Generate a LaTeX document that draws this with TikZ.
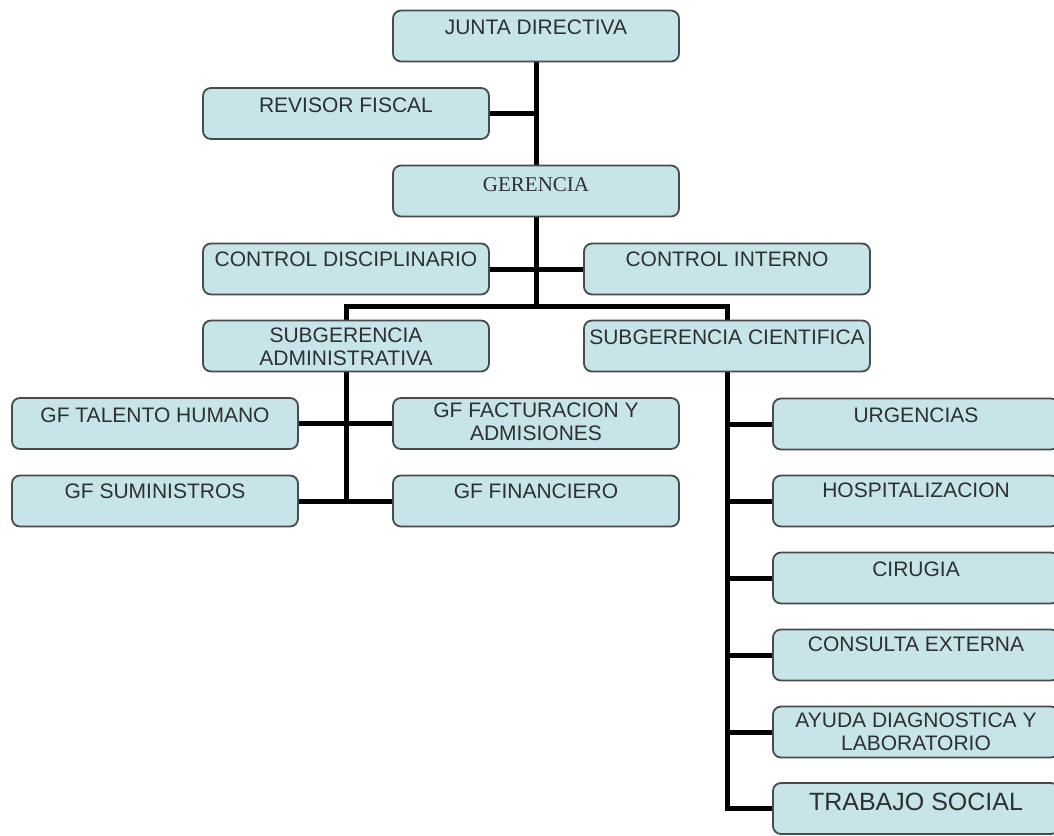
\documentclass[tikz,border=0pt]{standalone}
\usepackage{fontspec}
\setmainfont{Liberation Sans}
\newfontfamily\gerserif{Liberation Serif}
\pgfdeclarelayer{background}
\pgfsetlayers{background,main}
\definecolor{boxfill}{RGB}{199,228,232}
\definecolor{boxline}{RGB}{70,75,75}
\definecolor{txt}{RGB}{45,48,50}
\newcommand\boxfont{\fontsize{21}{23}\selectfont}
\newcommand\bigboxfont{\fontsize{25}{28}\selectfont}
\tikzset{
  orgbox/.style={draw=boxline, line width=1.8pt, fill=boxfill, rounded corners=8pt,
    minimum width=286pt, minimum height=51pt, inner sep=0pt},
  lbl/.style={font=\boxfont, text=txt, inner sep=0pt, align=center},
  conn/.style={line width=5pt, black, line cap=rect, line join=miter},
}
\begin{document}
\begin{tikzpicture}[x=1pt,y=-1pt]
\useasboundingbox (0,0) rectangle (1054,835);
\clip (0,0) rectangle (1054,835);
% boxes
\node[orgbox] (jd) at (536,36) {};
\node[orgbox] (rf) at (346,113.5) {};
\node[orgbox] (ge) at (536,191) {};
\node[orgbox] (cd) at (346,269) {};
\node[orgbox] (ci) at (727,269) {};
\node[orgbox] (sa) at (346,346) {};
\node[orgbox] (sc) at (727,346) {};
\node[orgbox] (th) at (155,423.5) {};
\node[orgbox] (fa) at (536,423.5) {};
\node[orgbox] (su) at (155,501) {};
\node[orgbox] (fi) at (536,501) {};
\node[orgbox] (ur) at (916,424) {};
\node[orgbox] (ho) at (916,501) {};
\node[orgbox] (cx) at (916,578) {};
\node[orgbox] (ce) at (916,655) {};
\node[orgbox] (ay) at (916,732) {};
\node[orgbox] (ts) at (916,808.5) {};
% labels
\node[lbl, anchor=base] at ([yshift=-25pt]jd.north) {JUNTA DIRECTIVA};
\node[lbl, anchor=base] at ([yshift=-25pt]rf.north) {REVISOR FISCAL};
\node[lbl, anchor=base, font=\gerserif\boxfont] at ([yshift=-27pt]ge.north) {GERENCIA};
\node[lbl, anchor=base] at ([yshift=-24pt]cd.north) {CONTROL DISCIPLINARIO};
\node[lbl, anchor=base] at ([yshift=-24pt]ci.north) {CONTROL INTERNO};
\node[lbl, anchor=north] at ([yshift=-8pt]sa.north) {SUBGERENCIA\\ADMINISTRATIVA};
\node[lbl, anchor=base] at ([yshift=-25pt]sc.north) {SUBGERENCIA CIENTIFICA};
\node[lbl, anchor=base] at ([yshift=-25pt]th.north) {GF TALENTO HUMANO};
\node[lbl, anchor=north] at ([yshift=-6pt]fa.north) {GF FACTURACION Y\\ADMISIONES};
\node[lbl, anchor=base] at ([yshift=-24pt]su.north) {GF SUMINISTROS};
\node[lbl, anchor=base] at ([yshift=-24pt]fi.north) {GF FINANCIERO};
\node[lbl, anchor=base] at ([yshift=-25pt]ur.north) {URGENCIAS};
\node[lbl, anchor=base] at ([yshift=-23pt]ho.north) {HOSPITALIZACION};
\node[lbl, anchor=base] at ([yshift=-25pt]cx.north) {CIRUGIA};
\node[lbl, anchor=base] at ([yshift=-23pt]ce.north) {CONSULTA EXTERNA};
\node[lbl, anchor=north] at ([yshift=-7pt]ay.north) {AYUDA DIAGNOSTICA Y\\LABORATORIO};
\node[lbl, anchor=base, font=\bigboxfont] at ([yshift=-28pt]ts.north) {TRABAJO SOCIAL};
% connectors
\coordinate (split) at (536,306);
\begin{pgfonlayer}{background}
\draw[conn] (jd.south) -- (ge.north);
\draw[conn] (rf.east) -- (rf.east -| jd.south);
\draw[conn] (ge.south) -- (split);
\draw[conn] (cd.east) -- (ci.west);
\draw[conn] (sa.north) |- (split) -| (sc.north);
\draw[conn] (sa.south) -- (sa.south |- su.east);
\draw[conn] (th.east) -- (fa.west);
\draw[conn] (su.east) -- (fi.west);
\draw[conn] (sc.south) |- (ts.west);
\draw[conn] (sc.south |- ur.west) -- (ur.west);
\draw[conn] (sc.south |- ho.west) -- (ho.west);
\draw[conn] (sc.south |- cx.west) -- (cx.west);
\draw[conn] (sc.south |- ce.west) -- (ce.west);
\draw[conn] (sc.south |- ay.west) -- (ay.west);
\end{pgfonlayer}
\end{tikzpicture}
\end{document}
